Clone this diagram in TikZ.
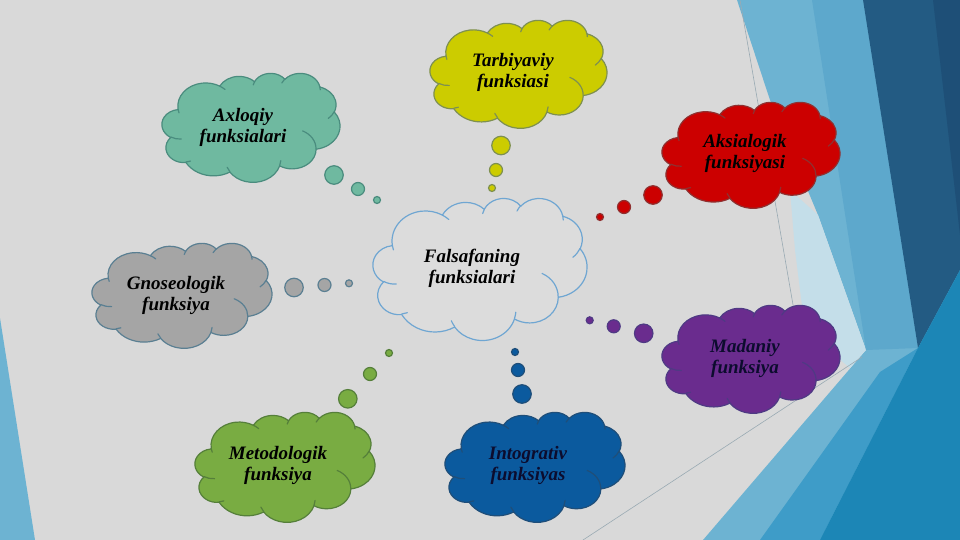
\documentclass[tikz,border=0pt]{standalone}
\usepackage{fontspec}
\setmainfont{Liberation Serif}
\definecolor{bg}{HTML}{D9D9D9}
\definecolor{lbA}{HTML}{6DB3D2}
\definecolor{lbB}{HTML}{5DA8CC}
\definecolor{lbC}{HTML}{3E9CC8}
\definecolor{pale}{HTML}{C4DEE9}
\definecolor{dkA}{HTML}{235B83}
\definecolor{dkB}{HTML}{1E4F77}
\definecolor{mdA}{HTML}{1C86B6}
\definecolor{thinl}{HTML}{9AAAB3}
\definecolor{tealF}{HTML}{6FB9A0}\definecolor{tealD}{HTML}{4A8C7E}
\definecolor{yelF}{HTML}{CCCC00}\definecolor{yelD}{HTML}{7E9050}
\definecolor{redF}{HTML}{CC0000}\definecolor{redD}{HTML}{8F3030}
\definecolor{gryF}{HTML}{A5A5A5}\definecolor{gryD}{HTML}{5A7F92}
\definecolor{purF}{HTML}{6A2C8E}\definecolor{purD}{HTML}{4F3A84}
\definecolor{bluF}{HTML}{0B5A9E}\definecolor{bluD}{HTML}{1F4E79}
\definecolor{grnF}{HTML}{79AC42}\definecolor{grnD}{HTML}{557F3A}
\definecolor{cenF}{HTML}{DCDCDC}\definecolor{cenD}{HTML}{6FA6D2}
\definecolor{navy}{HTML}{0C0C2E}

% visual (OOXML) angles -> parametric angles, stored negated for a y-up canvas
\newcommand\PrepArc[5]{%
  \pgfmathsetmacro\PAs{atan2((#2)*sin(#4),(#3)*cos(#4))}%
  \pgfmathsetmacro\PAe{atan2((#2)*sin((#4)+(#5)),(#3)*cos((#4)+(#5)))}%
  \pgfmathsetmacro\PAd{\PAe-(\PAs)}%
  \pgfmathsetmacro\PAd{(\PAd<0) ? (\PAd+360) : (\PAd)}%
  \pgfmathsetmacro\PAs{-1*(\PAs)}%
  \pgfmathsetmacro\PAd{-1*(\PAd)}%
  \expandafter\xdef\csname CAs#1\endcsname{\PAs}%
  \expandafter\xdef\csname CAd#1\endcsname{\PAd}%
}
\PrepArc{1}{67.53}{91.90}{-190.4875}{123.7805}
\PrepArc{2}{53.33}{72.67}{-144.1024}{89.9452}
\PrepArc{3}{43.65}{59.45}{-145.8079}{99.7230}
\PrepArc{4}{48.57}{65.95}{-130.9861}{117.2417}
\PrepArc{5}{53.33}{72.73}{-78.7089}{109.0269}
\PrepArc{6}{67.75}{92.20}{-46.2673}{130.2690}
\PrepArc{7}{57.85}{78.67}{0.6250}{114.0333}
\PrepArc{8}{67.52}{92.15}{22.4516}{115.1726}
\PrepArc{9}{77.20}{105.43}{66.2426}{75.7110}
\PrepArc{10}{43.60}{59.18}{-274.9421}{146.7356}
\PrepArc{11}{43.45}{59.45}{-246.8285}{152.5189}
\PrepArc{21}{43.45}{59.45}{86.7420}{26.4295}
\PrepArc{22}{43.60}{59.18}{73.6105}{11.4475}
\PrepArc{23}{67.52}{92.15}{137.6242}{14.0811}
\PrepArc{24}{67.52}{92.15}{6.4533}{15.9984}
\PrepArc{25}{57.85}{78.67}{-70.2924}{70.9174}
\PrepArc{26}{53.33}{72.73}{30.3180}{27.7515}
\PrepArc{27}{48.57}{65.95}{-13.7443}{14.8589}
\PrepArc{28}{48.57}{65.95}{-149.1815}{18.1954}
\PrepArc{29}{43.65}{59.45}{-163.4943}{17.6864}
\PrepArc{30}{67.53}{91.90}{-66.7070}{12.3194}
\PrepArc{31}{67.53}{91.90}{157.6544}{11.8582}

\newcommand\CA[3]{arc[start angle=\csname CAs#1\endcsname, delta angle=\csname CAd#1\endcsname, x radius={#2*\SX pt}, y radius={#3*\SY pt}]}
\newcommand\CP[2]{({\CX+#1*\SX},{\CY+#2*\SY})}

% #1 x0, #2 y0, #3 w, #4 h, #5 fill, #6 draw
\newcommand\DrawCloud[6]{%
  \def\CX{#1}\def\CY{#2}%
  \pgfmathsetmacro\SX{#3/432}\pgfmathsetmacro\SY{#4/432}%
  \path[fill=#5, draw=#6, cloudline] \CP{39.00}{143.70}
    \CA{1}{67.53}{91.90} \CA{2}{53.33}{72.67} \CA{3}{43.65}{59.45}
    \CA{4}{48.57}{65.95} \CA{5}{53.33}{72.73} \CA{6}{67.75}{92.20}
    \CA{7}{57.85}{78.67} \CA{8}{67.52}{92.15} \CA{9}{77.20}{105.43}
    \CA{10}{43.60}{59.18} \CA{11}{43.45}{59.45} -- cycle;
  \path[draw=#6, cloudline, line cap=round]
    \CP{46.93}{261.77} \CA{21}{43.45}{59.45}
    \CP{69.28}{348.99} \CA{22}{43.60}{59.18}
    \CP{164.78}{390.90} \CA{23}{67.52}{92.15}
    \CP{288.27}{347.51} \CA{24}{67.52}{92.15}
    \CP{341.29}{229.54} \CA{25}{57.85}{78.67}
    \CP{417.98}{153.54} \CA{26}{53.33}{72.73}
    \CP{383.24}{54.26} \CA{27}{48.57}{65.95}
    \CP{290.78}{39.52} \CA{28}{48.57}{65.95}
    \CP{221.41}{47.20} \CA{29}{43.65}{59.45}
    \CP{140.00}{51.92} \CA{30}{67.53}{91.90}
    \CP{41.27}{157.89} \CA{31}{67.53}{91.90};
}

\tikzset{
  cloudline/.style={line width=1.2pt},
  lbl/.style={font=\fontsize{19}{21}\selectfont\bfseries\itshape, align=center, inner sep=0pt},
  bub/.style={circle, inner sep=0pt, line width=1.2pt},
}

\begin{document}
\begin{tikzpicture}[x=1pt, y=-1pt]
\useasboundingbox (0,0) rectangle (960,540);
% background
\fill[bg] (0,0) rectangle (960,540);
\fill[lbA] (0,318) -- (35,540) -- (0,540) -- cycle;
\fill[lbA] (737,0) -- (960,0) -- (960,540) -- (703,540) -- (866,350) -- (818,215) -- (770,100) -- cycle;
\fill[pale] (790,190) -- (818,215) -- (866,350) -- (850,368) -- (805,330) -- (795,250) -- cycle;
\fill[lbB] (812,0) -- (863,0) -- (918,348) -- (866,350) -- cycle;
\fill[lbC] (760,540) -- (880,372) -- (918,348) -- (820,540) -- cycle;
\fill[dkA] (863,0) -- (960,0) -- (960,270) -- (918,348) -- cycle;
\fill[dkB] (933,0) -- (960,0) -- (960,235) -- cycle;
\fill[mdA] (918,348) -- (960,270) -- (960,540) -- (820,540) -- cycle;
\draw[thinl, line width=0.6pt] (583,540) -- (862,357);
\draw[thinl, line width=0.6pt] (740,0) -- (800,345);

% central cloud
\DrawCloud{373}{198}{214}{142}{cenF}{cenD}
\node[lbl] (center) at (472,268) {Falsafaning\\funksialari};

% Axloqiy
\DrawCloud{162}{73}{178}{109}{tealF}{tealD}
\node[lbl] (ax) at (243,127) {Axloqiy\\funksialari};
\node[bub, fill=tealF, draw=tealD, minimum size=18.5pt] (ax1) at (334,175) {};
\node[bub, fill=tealF, draw=tealD, minimum size=13pt] (ax2) at (358,189) {};
\node[bub, fill=tealF, draw=tealD, minimum size=7pt] (ax3) at (377,200) {};

% Tarbiyaviy
\DrawCloud{430}{20}{177}{108}{yelF}{yelD}
\node[lbl] (ta) at (513,72) {Tarbiyaviy\\funksiasi};
\node[bub, fill=yelF, draw=yelD, minimum size=18.5pt] (ta1) at (501,145.5) {};
\node[bub, fill=yelF, draw=yelD, minimum size=13pt] (ta2) at (496,170) {};
\node[bub, fill=yelF, draw=yelD, minimum size=7pt] (ta3) at (492,188) {};

% Aksialogik
\DrawCloud{662}{102}{178}{106}{redF}{redD}
\node[lbl] (ak) at (745,153) {Aksialogik\\funksiyasi};
\node[bub, fill=redF, draw=redD, minimum size=18.5pt] (ak1) at (653,195) {};
\node[bub, fill=redF, draw=redD, minimum size=13pt] (ak2) at (624,207) {};
\node[bub, fill=redF, draw=redD, minimum size=7pt] (ak3) at (600,217) {};

% Gnoseologik
\DrawCloud{92}{243}{180}{105}{gryF}{gryD}
\node[lbl] (gn) at (176,295) {Gnoseologik\\funksiya};
\node[bub, fill=gryF, draw=gryD, minimum size=18.5pt] (gn1) at (294,287.5) {};
\node[bub, fill=gryF, draw=gryD, minimum size=13pt] (gn2) at (324.5,285) {};
\node[bub, fill=gryF, draw=gryD, minimum size=7pt] (gn3) at (349,283.3) {};

% Madaniy
\DrawCloud{662}{305}{178}{108}{purF}{purD}
\node[lbl, text=navy] (ma) at (745,358) {Madaniy\\funksiya};
\node[bub, fill=purF, draw=purD, minimum size=18.5pt] (ma1) at (643.7,333.3) {};
\node[bub, fill=purF, draw=purD, minimum size=13pt] (ma2) at (613.7,326.3) {};
\node[bub, fill=purF, draw=purD, minimum size=7pt] (ma3) at (589.7,320.3) {};

% Intogrativ
\DrawCloud{445}{412}{180}{110}{bluF}{bluD}
\node[lbl, text=navy] (int) at (528,465) {Intogrativ\\funksiyas};
\node[bub, fill=bluF, draw=bluD, minimum size=18.5pt] (int1) at (522,394) {};
\node[bub, fill=bluF, draw=bluD, minimum size=13pt] (int2) at (518,370) {};
\node[bub, fill=bluF, draw=bluD, minimum size=7pt] (int3) at (515,352) {};

% Metodologik
\DrawCloud{195}{412}{180}{110}{grnF}{grnD}
\node[lbl] (me) at (278,465) {Metodologik\\funksiya};
\node[bub, fill=grnF, draw=grnD, minimum size=18.5pt] (me1) at (347.8,398.8) {};
\node[bub, fill=grnF, draw=grnD, minimum size=13pt] (me2) at (370,374) {};
\node[bub, fill=grnF, draw=grnD, minimum size=7pt] (me3) at (389,353) {};
\end{tikzpicture}
\end{document}
